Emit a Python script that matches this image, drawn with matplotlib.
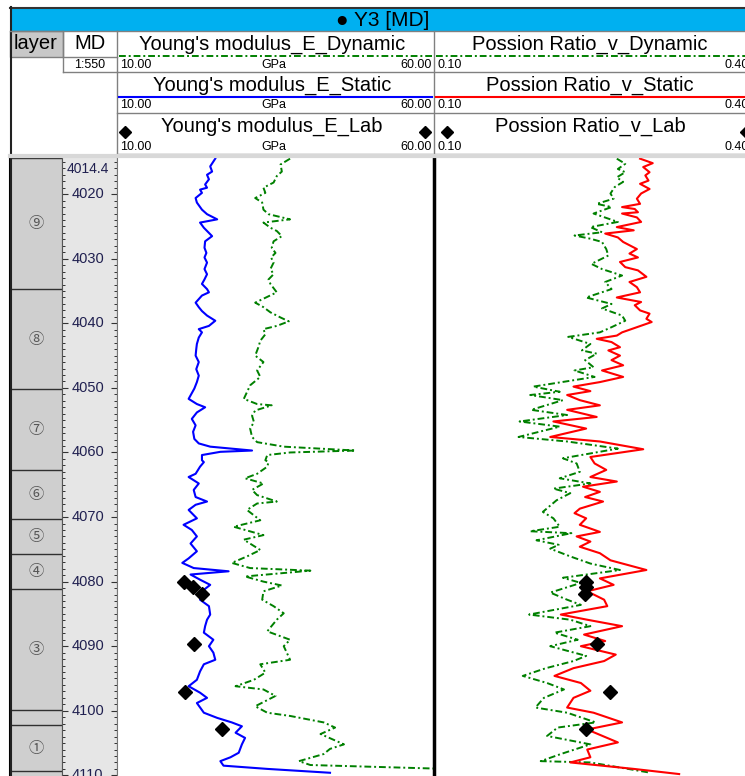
import matplotlib
matplotlib.use('Agg')
import matplotlib.pyplot as plt
from matplotlib.patches import Rectangle
from matplotlib.ticker import MultipleLocator

W, H = 745, 776
plt.rcParams['font.family'] = ['Liberation Sans', 'DejaVu Sans']

top_md, bot_md = 4014.4, 4110.1
md_labels = [4020, 4030, 4040, 4050, 4060, 4070, 4080, 4090, 4100, 4110]

layer_top = [4014.4, 4034.7, 4050.2, 4062.7, 4070.3, 4075.7, 4081.1, 4099.9, 4102.2, 4109.4]
layer_bot = [4034.7, 4050.2, 4062.7, 4070.3, 4075.7, 4081.1, 4099.9, 4102.2, 4109.4, 4112.0]
layer_name = ['⑨', '⑧', '⑦', '⑥', '⑤', '④', '③', '', '①', '']

# Young's modulus, static (GPa)
es_depth = [4014.5, 4015.7, 4016.5, 4017.0, 4017.7, 4018.5, 4019.0, 4019.3, 4019.8, 4020.6,
            4021.3, 4022.4, 4023.1, 4023.9, 4024.4, 4025.2, 4025.7, 4026.5, 4027.3, 4028.3,
            4029.1, 4029.8, 4030.6, 4031.6, 4032.4, 4033.2, 4033.9, 4034.7, 4035.2, 4035.7,
            4036.8, 4037.5, 4038.1, 4038.8, 4039.6, 4040.4, 4040.9, 4041.4, 4042.2, 4043.2,
            4044.0, 4045.0, 4046.0, 4047.1, 4048.1, 4049.1, 4050.1, 4051.7, 4052.5, 4053.0,
            4053.8, 4054.8, 4055.8, 4056.8, 4057.9, 4058.6, 4059.1, 4059.7, 4059.9, 4060.4,
            4061.2,
            4061.5, 4062.2, 4063.3, 4063.8, 4064.8, 4065.8, 4066.9, 4067.6, 4068.1, 4068.9,
            4070.2, 4071.2, 4072.0, 4073.0, 4074.1, 4075.3, 4076.4, 4077.1, 4077.9, 4078.4,
            4078.9, 4079.7, 4080.5, 4081.5, 4082.8, 4083.8, 4085.1, 4085.9, 4086.9, 4087.9,
            4089.0, 4090.0, 4091.0, 4092.1, 4092.8, 4093.9, 4095.2, 4096.2, 4097.2, 4098.0,
            4098.8, 4100.3, 4101.1, 4101.8, 4102.4, 4103.4, 4104.2, 4105.2, 4106.5, 4107.2,
            4107.8, 4108.5, 4109.0, 4109.6]
es_val = [25.5, 24.7, 25.0, 24.2, 24.5, 23.9, 24.2, 23.1, 23.4, 22.4,
          22.6, 23.4, 24.2, 25.8, 23.1, 23.7, 24.2, 25.0, 23.9, 23.8,
          24.1, 23.8, 24.2, 23.8, 24.2, 23.8, 23.4, 24.2, 24.5, 23.4,
          22.4, 22.9, 23.4, 24.2, 25.5, 24.5, 22.9, 23.4, 22.9, 22.6,
          22.5, 22.4, 22.9, 22.5, 22.9, 22.6, 22.2, 21.3, 22.6, 23.9,
          22.6, 21.8, 22.4, 22.0, 22.2, 22.9, 24.7, 31.3, 26.3, 23.4,
          23.4,
          23.7, 23.1, 22.4, 21.3, 22.9, 22.1, 22.4, 24.2, 22.4, 21.3,
          22.6, 20.5, 21.8, 22.6, 21.6, 22.6, 21.3, 20.3, 22.1, 27.6,
          21.6, 23.1, 24.7, 23.4, 23.1, 24.5, 24.7, 24.2, 23.9, 23.7,
          25.2, 24.5, 25.2, 25.5, 23.7, 23.1, 22.6, 21.3, 23.1, 24.2,
          22.6, 23.7, 25.8, 28.1, 29.7, 28.7, 30.2, 29.7, 29.2, 27.9,
          26.3, 26.8, 33.7, 43.6]

# Young's modulus, dynamic (GPa)
ed_depth = [4014.5, 4015.4, 4016.5, 4017.2, 4018.2, 4019.0, 4019.8, 4020.6, 4021.3, 4022.4,
            4023.1, 4023.9, 4024.4, 4025.2, 4025.7, 4026.5, 4027.3, 4028.3, 4029.1, 4029.8,
            4030.6, 4031.6, 4032.4, 4033.2, 4033.9, 4035.2, 4036.8, 4037.5, 4038.3, 4039.1,
            4039.7, 4040.4, 4040.9, 4041.7, 4042.7, 4043.7, 4045.0, 4046.0, 4047.3, 4048.3,
            4049.6, 4051.7, 4052.5, 4052.7, 4053.5, 4054.3, 4055.3, 4056.3, 4057.6, 4058.4,
            4059.1, 4059.7, 4060.0, 4060.4, 4061.2,
            4061.5, 4062.2, 4063.3, 4064.0, 4064.8, 4065.8, 4066.6, 4067.6, 4067.9, 4068.9,
            4070.5, 4071.5, 4072.8, 4073.5, 4075.1, 4076.1, 4077.1, 4077.9, 4078.3, 4079.2,
            4080.0, 4080.6, 4081.5, 4082.8, 4083.8, 4084.9, 4085.9, 4087.7, 4089.0, 4090.0,
            4092.1, 4092.8, 4094.1, 4095.2, 4096.2, 4096.7, 4097.7, 4099.3, 4100.3, 4100.8,
            4101.8, 4102.6, 4103.6, 4105.2, 4105.9, 4106.7, 4107.8, 4108.4, 4109.0]
ed_val = [37.3, 35.8, 36.0, 35.2, 34.7, 33.1, 33.4, 31.8, 32.9, 33.1,
          33.9, 37.3, 33.1, 34.2, 35.2, 36.0, 34.7, 34.4, 35.0, 34.3,
          34.7, 34.2, 34.7, 33.9, 34.2, 35.2, 31.8, 33.1, 34.2, 35.8,
          37.1, 35.2, 33.1, 33.4, 32.6, 32.3, 31.8, 33.1, 32.1, 32.6,
          31.0, 30.0, 32.1, 34.4, 31.8, 31.3, 31.6, 31.0, 31.3, 32.1,
          36.3, 47.6, 37.3, 33.7, 33.4,
          33.9, 33.7, 32.1, 30.2, 33.1, 31.3, 32.1, 35.2, 32.1, 30.5,
          32.6, 28.4, 33.1, 30.0, 32.6, 30.5, 28.1, 31.0, 40.5, 30.2,
          33.1, 36.0, 33.1, 32.9, 34.7, 36.3, 35.2, 33.7, 37.3, 36.3,
          37.3, 32.6, 33.4, 31.6, 28.7, 33.1, 35.0, 31.8, 33.7, 37.3,
          42.6, 44.4, 42.1, 45.8, 43.6, 42.6, 38.7, 40.5, 62.0]

# Poisson ratio, static
vs_depth = [4014.5, 4015.2, 4015.8, 4016.6, 4017.1, 4017.9, 4018.4, 4019.2, 4019.9, 4020.7,
            4021.5, 4022.0, 4022.3, 4022.8, 4023.0, 4023.6, 4024.3, 4025.1, 4025.6, 4026.1,
            4026.7, 4027.4, 4028.5, 4029.2, 4029.8, 4030.5, 4031.3, 4031.8, 4032.8, 4033.6,
            4034.4, 4035.2, 4036.0, 4036.7, 4037.2, 4038.0, 4038.5, 4039.3, 4039.8, 4040.6,
            4041.4, 4041.9, 4042.4, 4042.9, 4043.7, 4044.2, 4045.0, 4045.7, 4046.5, 4047.3,
            4048.3, 4049.1,
            4049.8, 4050.5, 4051.1, 4051.9, 4052.7, 4053.4, 4054.5, 4055.2, 4056.3, 4057.6,
            4058.3, 4059.5, 4060.7, 4061.7, 4062.7, 4063.8, 4064.5, 4065.3, 4066.1, 4066.9,
            4067.6, 4068.7, 4069.4, 4070.2, 4071.2, 4072.3, 4073.0, 4073.8, 4074.6, 4075.6,
            4076.7, 4078.2, 4079.5,
            4080.5, 4081.5, 4082.8, 4083.8, 4085.1, 4085.9, 4086.9, 4088.2, 4089.2, 4090.0,
            4091.3, 4092.3, 4093.4, 4094.6, 4095.7, 4096.9, 4098.0, 4099.5, 4100.3, 4101.8,
            4102.9, 4104.9, 4106.0, 4107.2, 4108.0, 4109.0, 4109.8]
vs_val = [0.295, 0.307, 0.298, 0.304, 0.300, 0.303, 0.295, 0.304, 0.296, 0.292,
          0.295, 0.278, 0.290, 0.293, 0.278, 0.292, 0.296, 0.273, 0.289, 0.262,
          0.274, 0.279, 0.292, 0.285, 0.293, 0.276, 0.281, 0.293, 0.301, 0.285,
          0.292, 0.295, 0.273, 0.296, 0.290, 0.295, 0.304, 0.301, 0.306, 0.292,
          0.278, 0.273, 0.254, 0.268, 0.276, 0.265, 0.276, 0.268, 0.279, 0.259,
          0.279, 0.257,
          0.232, 0.248, 0.226, 0.238, 0.257, 0.226, 0.254, 0.213, 0.244, 0.210,
          0.257, 0.298, 0.248, 0.252, 0.263, 0.248, 0.273, 0.241, 0.257, 0.243,
          0.260, 0.238, 0.233, 0.244, 0.238, 0.257, 0.235, 0.248, 0.238, 0.257,
          0.267, 0.301, 0.257,
          0.270, 0.245, 0.261, 0.264, 0.220, 0.245, 0.278, 0.242, 0.262, 0.239,
          0.272, 0.261, 0.232, 0.214, 0.239, 0.248, 0.232, 0.226, 0.251, 0.278,
          0.245, 0.274, 0.245, 0.248, 0.229, 0.289, 0.332]

# Poisson ratio, dynamic
vd_depth = [4014.5, 4015.3, 4016.1, 4016.6, 4017.4, 4018.1, 4018.9, 4019.9, 4020.7, 4021.5,
            4022.0, 4023.0, 4024.3, 4025.1, 4025.9, 4026.4, 4026.9, 4027.4, 4028.5, 4029.5,
            4030.8, 4031.6, 4032.6, 4033.6, 4034.7, 4036.0, 4037.0, 4037.7, 4038.8, 4039.6,
            4040.6, 4041.4, 4042.1, 4043.2, 4044.2, 4044.7, 4045.7, 4046.8, 4047.3, 4048.3,
            4049.8, 4050.6, 4051.1, 4051.9, 4053.4, 4054.2, 4055.2, 4056.0, 4057.6, 4058.3,
            4059.4, 4060.9, 4061.7, 4063.0, 4064.0, 4064.8, 4065.6, 4066.3, 4067.4, 4069.2,
            4070.2, 4071.5, 4072.2, 4072.5, 4073.6, 4074.3, 4074.9, 4076.1, 4077.2, 4078.2,
            4079.4,
            4080.2, 4081.7, 4082.8, 4083.6, 4085.1, 4085.9, 4086.9, 4087.9, 4089.0, 4090.0,
            4091.5, 4092.3, 4093.4, 4094.6, 4095.7, 4096.7, 4098.0, 4099.5, 4100.3, 4101.8,
            4102.6, 4103.9, 4105.2, 4106.7, 4107.8, 4108.0, 4109.6]
vd_val = [0.273, 0.281, 0.274, 0.281, 0.273, 0.279, 0.271, 0.267, 0.270, 0.254,
          0.268, 0.251, 0.274, 0.248, 0.259, 0.233, 0.248, 0.259, 0.263, 0.265,
          0.249, 0.259, 0.278, 0.262, 0.268, 0.244, 0.268, 0.259, 0.278, 0.281,
          0.268, 0.257, 0.227, 0.248, 0.240, 0.254, 0.243, 0.251, 0.233, 0.252,
          0.194, 0.219, 0.191, 0.222, 0.192, 0.226, 0.181, 0.219, 0.180, 0.226,
          0.274, 0.222, 0.235, 0.238, 0.219, 0.248, 0.213, 0.229, 0.216, 0.203,
          0.213, 0.219, 0.191, 0.230, 0.197, 0.218, 0.210, 0.229, 0.248, 0.276,
          0.222,
          0.239, 0.210, 0.226, 0.239, 0.190, 0.229, 0.248, 0.214, 0.236, 0.210,
          0.244, 0.232, 0.206, 0.184, 0.207, 0.223, 0.204, 0.196, 0.226, 0.253,
          0.217, 0.207, 0.248, 0.220, 0.201, 0.248, 0.305]

# lab samples
lab_depth = [4080.0, 4080.9, 4081.9, 4089.6, 4097.1, 4102.8]
lab_E = [20.5, 22.0, 23.4, 22.1, 20.8, 26.5]
lab_v = [0.244, 0.244, 0.243, 0.254, 0.267, 0.244]

green = '#008000'
dashdot = (0, (3.5, 1.5, 1.0, 1.5))
lblue = '#202050'

fig = plt.figure(figsize=(W / 100, H / 100), dpi=100)


def px_axes(x0, y0, x1, y1):
    return fig.add_axes([x0 / W, 1 - y1 / H, (x1 - x0) / W, (y1 - y0) / H])


# ---- data tracks ----
ax_layer = px_axes(10, 158, 62, 776)
ax_md = px_axes(62, 158, 117, 776)
ax1 = px_axes(117, 158, 434, 776)
ax2 = px_axes(434, 158, 751, 776)

for ax in (ax_layer, ax_md, ax1, ax2):
    ax.set_ylim(bot_md, top_md)

# layer column
ax_layer.set_xlim(0, 1)
ax_layer.set_facecolor('#CFCFCF')
for t, b, name in zip(layer_top, layer_bot, layer_name):
    ax_layer.axhline(t, color='#303030', lw=1)
    if name:
        ax_layer.text(0.5, (t + b) / 2, name, ha='center', va='center', fontsize=11,
                      color='#555555', family=['Noto Sans CJK SC', 'DejaVu Sans'])
ax_layer.set_xticks([])
ax_layer.set_yticks([])
for s in ax_layer.spines.values():
    s.set_visible(False)
ax_layer.spines['left'].set_visible(True)
ax_layer.spines['left'].set_linewidth(1.5)
ax_layer.spines['right'].set_visible(True)
ax_layer.spines['right'].set_color('#555555')

# MD column
ax_md.set_facecolor('#E6E6E6')
ax_md.set_xlim(0, 1)
ax_md.set_xticks([])
ax_md.yaxis.set_major_locator(MultipleLocator(10))
ax_md.yaxis.set_minor_locator(MultipleLocator(1))
ax_md.tick_params(axis='y', which='both', direction='in', left=True, right=True,
                  labelleft=False, colors='#333333')
ax_md.tick_params(axis='y', which='major', length=4.5, width=0.8)
ax_md.tick_params(axis='y', which='minor', length=2.5, width=0.7)
for v in md_labels:
    ax_md.text(0.47, v, f'{v:g}', ha='center', va='center', fontsize=10.5, color=lblue)
ax_md.annotate(f'{top_md:.1f}', xy=(0.47, top_md), xycoords=('axes fraction', 'data'),
               xytext=(0, -3), textcoords='offset points', ha='center', va='top',
               fontsize=10, color=lblue)
for s in ('top', 'bottom'):
    ax_md.spines[s].set_visible(False)
ax_md.spines['left'].set_color('#555555')
ax_md.spines['right'].set_color('#555555')

# track 1: Young's modulus
ax1.set_xlim(10, 60)
ax1.plot(ed_val, ed_depth, color=green, lw=1.4, ls=dashdot)
ax1.plot(es_val, es_depth, color='#0000FF', lw=1.5)
ax1.plot(lab_E, lab_depth, 'D', color='black', ms=7.5)

# track 2: Poisson ratio
ax2.set_xlim(0.10, 0.40)
ax2.plot(vd_val, vd_depth, color=green, lw=1.4, ls=dashdot)
ax2.plot(vs_val, vs_depth, color='#FF0000', lw=1.5)
ax2.plot(lab_v, lab_depth, 'D', color='black', ms=7.5)

for ax in (ax1, ax2):
    ax.set_xticks([])
    ax.set_yticks([])
    ax.spines['top'].set_visible(False)
    ax.spines['bottom'].set_visible(False)
    ax.spines['left'].set_color('#777777')
    ax.spines['right'].set_visible(False)
ax2.spines['left'].set_color('black')
ax2.spines['left'].set_linewidth(2.5)

# ---- header (pixel coordinates) ----
hd = fig.add_axes([0, 0, 1, 1])
hd.set_xlim(0, W)
hd.set_ylim(H, 0)
hd.axis('off')
hd.patch.set_alpha(0)

hd.add_patch(Rectangle((10, 8), 760, 23, facecolor='#00B0F0', edgecolor='none'))
hd.plot([10, W], [7.5, 7.5], color='#333333', lw=1.5)
hd.plot([10.5, 10.5], [7, 776], color='#222222', lw=1.5)
hd.text(383, 26, '● Y3 [MD]', ha='center', va='baseline', fontsize=15)

# layer / MD headers
hd.add_patch(Rectangle((10, 31), 53, 26, facecolor='#C8C8C8', edgecolor='#808080', lw=1))
hd.text(36, 49.3, 'layer', ha='center', va='baseline', fontsize=14.5)
hd.text(90, 49.3, 'MD', ha='center', va='baseline', fontsize=14.5)
hd.plot([63, 117], [57, 57], color='#808080', lw=1)
hd.plot([63, 117], [72, 72], color='#808080', lw=1)
hd.text(90, 68.3, '1:550', ha='center', va='baseline', fontsize=9)
hd.plot([63, 63], [31, 72], color='#808080', lw=1)

# grid of header rows
for y in (31, 72, 113, 154):
    hd.plot([117, W], [y, y], color='#808080', lw=1)
hd.plot([10, 117], [31, 31], color='#808080', lw=1)
for x in (117, 434):
    hd.plot([x, x], [31, 154], color='#808080', lw=1)
hd.plot([10, W], [156, 156], color='#D8D8D8', lw=3)

# track header rows
t1_l, t1_r, t1_c = 117, 434, 272
t2_l, t2_r, t2_c = 434, 751, 590
rows = [
    ("Young's modulus_E_Dynamic", 'Possion Ratio_v_Dynamic', 49.3, 55.7, 67.7),
    ("Young's modulus_E_Static", 'Possion Ratio_v_Static', 90.7, 96.7, 108.3),
    ("Young's modulus_E_Lab", 'Possion Ratio_v_Lab', 131.7, 131.7, 150),
]
for i, (n1, n2, ty, ly, sy) in enumerate(rows):
    hd.text(t1_c, ty, n1, ha='center', va='baseline', fontsize=14.5)
    hd.text(t2_c, ty, n2, ha='center', va='baseline', fontsize=14.5)
    hd.text(t1_l + 3, sy, '10.00', ha='left', va='baseline', fontsize=9)
    hd.text(274, sy, 'GPa', ha='center', va='baseline', fontsize=9)
    hd.text(t1_r - 2, sy, '60.00', ha='right', va='baseline', fontsize=9)
    hd.text(t2_l + 3, sy, '0.10', ha='left', va='baseline', fontsize=9)
    hd.text(t2_r - 2, sy, '0.40', ha='right', va='baseline', fontsize=9)
    if i == 0:
        hd.plot([t1_l + 2, t1_r - 2], [ly, ly], color=green, lw=1.4, ls=dashdot)
        hd.plot([t2_l + 2, t2_r - 2], [ly, ly], color=green, lw=1.4, ls=dashdot)
    elif i == 1:
        hd.plot([t1_l + 2, t1_r - 2], [ly, ly], color='#0000FF', lw=1.5)
        hd.plot([t2_l + 2, t2_r - 2], [ly, ly], color='#FF0000', lw=1.5)
    else:
        hd.plot([125, 425], [ly, ly], 'D', color='black', ms=6)
        hd.plot([447, 746], [ly, ly], 'D', color='black', ms=6)

fig.savefig('out.png', dpi=100)
